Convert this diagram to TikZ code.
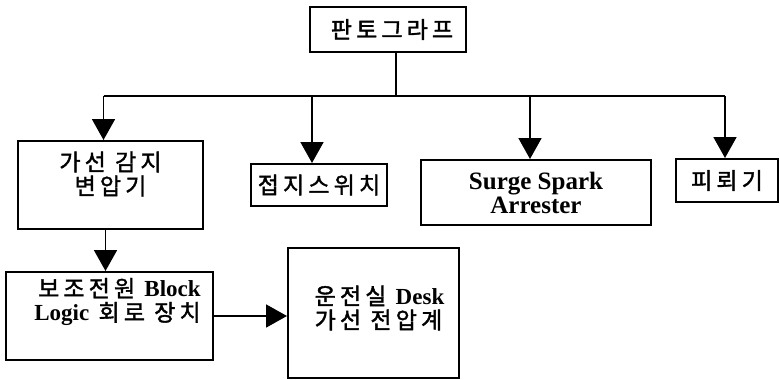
\documentclass[tikz,border=0pt]{standalone}
\usepackage{fontspec}
\setmainfont{Liberation Serif}
\newfontfamily\kr{Noto Sans CJK KR}[LetterSpace=18, FakeBold=1.6]
\newcommand{\en}[1]{{\rmfamily\bfseries #1}}
\usetikzlibrary{arrows.meta}

\begin{document}
\begin{tikzpicture}[x=1pt, y=-1pt,
    box node/.style={draw, line width=2pt, inner sep=0pt, font=\kr\fontsize{23}{24}\selectfont, align=center},
    wire/.style={line width=1.8pt},
    arr/.style={wire, -{Triangle[width=23pt,length=21pt]}}]
    \useasboundingbox (0,0) rectangle (780,380);

    \node[box node, minimum width=156pt, minimum height=45pt] (panto) at (388,29.5) {\hspace{8pt}판토그라프};
    \node[box node, minimum width=185pt, minimum height=88pt,
          label={[font=\kr\fontsize{23}{24}\selectfont, align=center, yshift=11pt]center:{가선 감지\\변압기}}] (gamji) at (110.5,185) {};
    \node[box node, minimum width=136pt, minimum height=42pt] (jeopji) at (319,185) {접지스위치};
    \node[box node, minimum width=230pt, minimum height=65pt, font=\rmfamily\bfseries\fontsize{25}{24}\selectfont] (surge) at (536,192.5) {Surge Spark\\Arrester};
    \node[box node, minimum width=102pt, minimum height=43pt] (piroe) at (727,180.5) {피뢰기};
    \node[box node, minimum width=207pt, minimum height=88pt,
          label={[font=\kr\fontsize{23}{24}\selectfont, align=right, xshift=8pt, yshift=14pt]center:{보조전원 \en{Block}\\\en{Logic} 회로 장치}}] (bojo) at (109.5,316) {};
    \node[box node, minimum width=171pt, minimum height=130pt,
          label={[font=\kr\fontsize{23}{24}\selectfont, align=left, xshift=6pt, yshift=5pt]center:{운전실 \en{Desk}\\가선 전압계}}] (desk) at (373.5,313) {};

    % bus from the pantograph
    \coordinate (bus) at (396,96);
    \draw[wire] (panto.south -| bus) -- (bus);
    \draw[wire] ([xshift=-7pt]gamji.north |- bus) -- ([xshift=-2pt]piroe.north |- bus);
    \draw[arr] ([xshift=-7pt]gamji.north |- bus) -- ([xshift=-7pt]gamji.north);
    \draw[arr] ([xshift=-7pt]jeopji.north |- bus) -- ([xshift=-7pt]jeopji.north);
    \draw[arr] ([xshift=-6pt]surge.north |- bus) -- ([xshift=-6pt]surge.north);
    \draw[arr] ([xshift=-2pt]piroe.north |- bus) -- ([xshift=-2pt]piroe.north);

    \draw[arr] ([xshift=-5pt]gamji.south) -- ([xshift=-5pt]gamji.south |- bojo.north);
    \draw[arr] (bojo.east) -- (bojo.east -| desk.west);
\end{tikzpicture}
\end{document}
